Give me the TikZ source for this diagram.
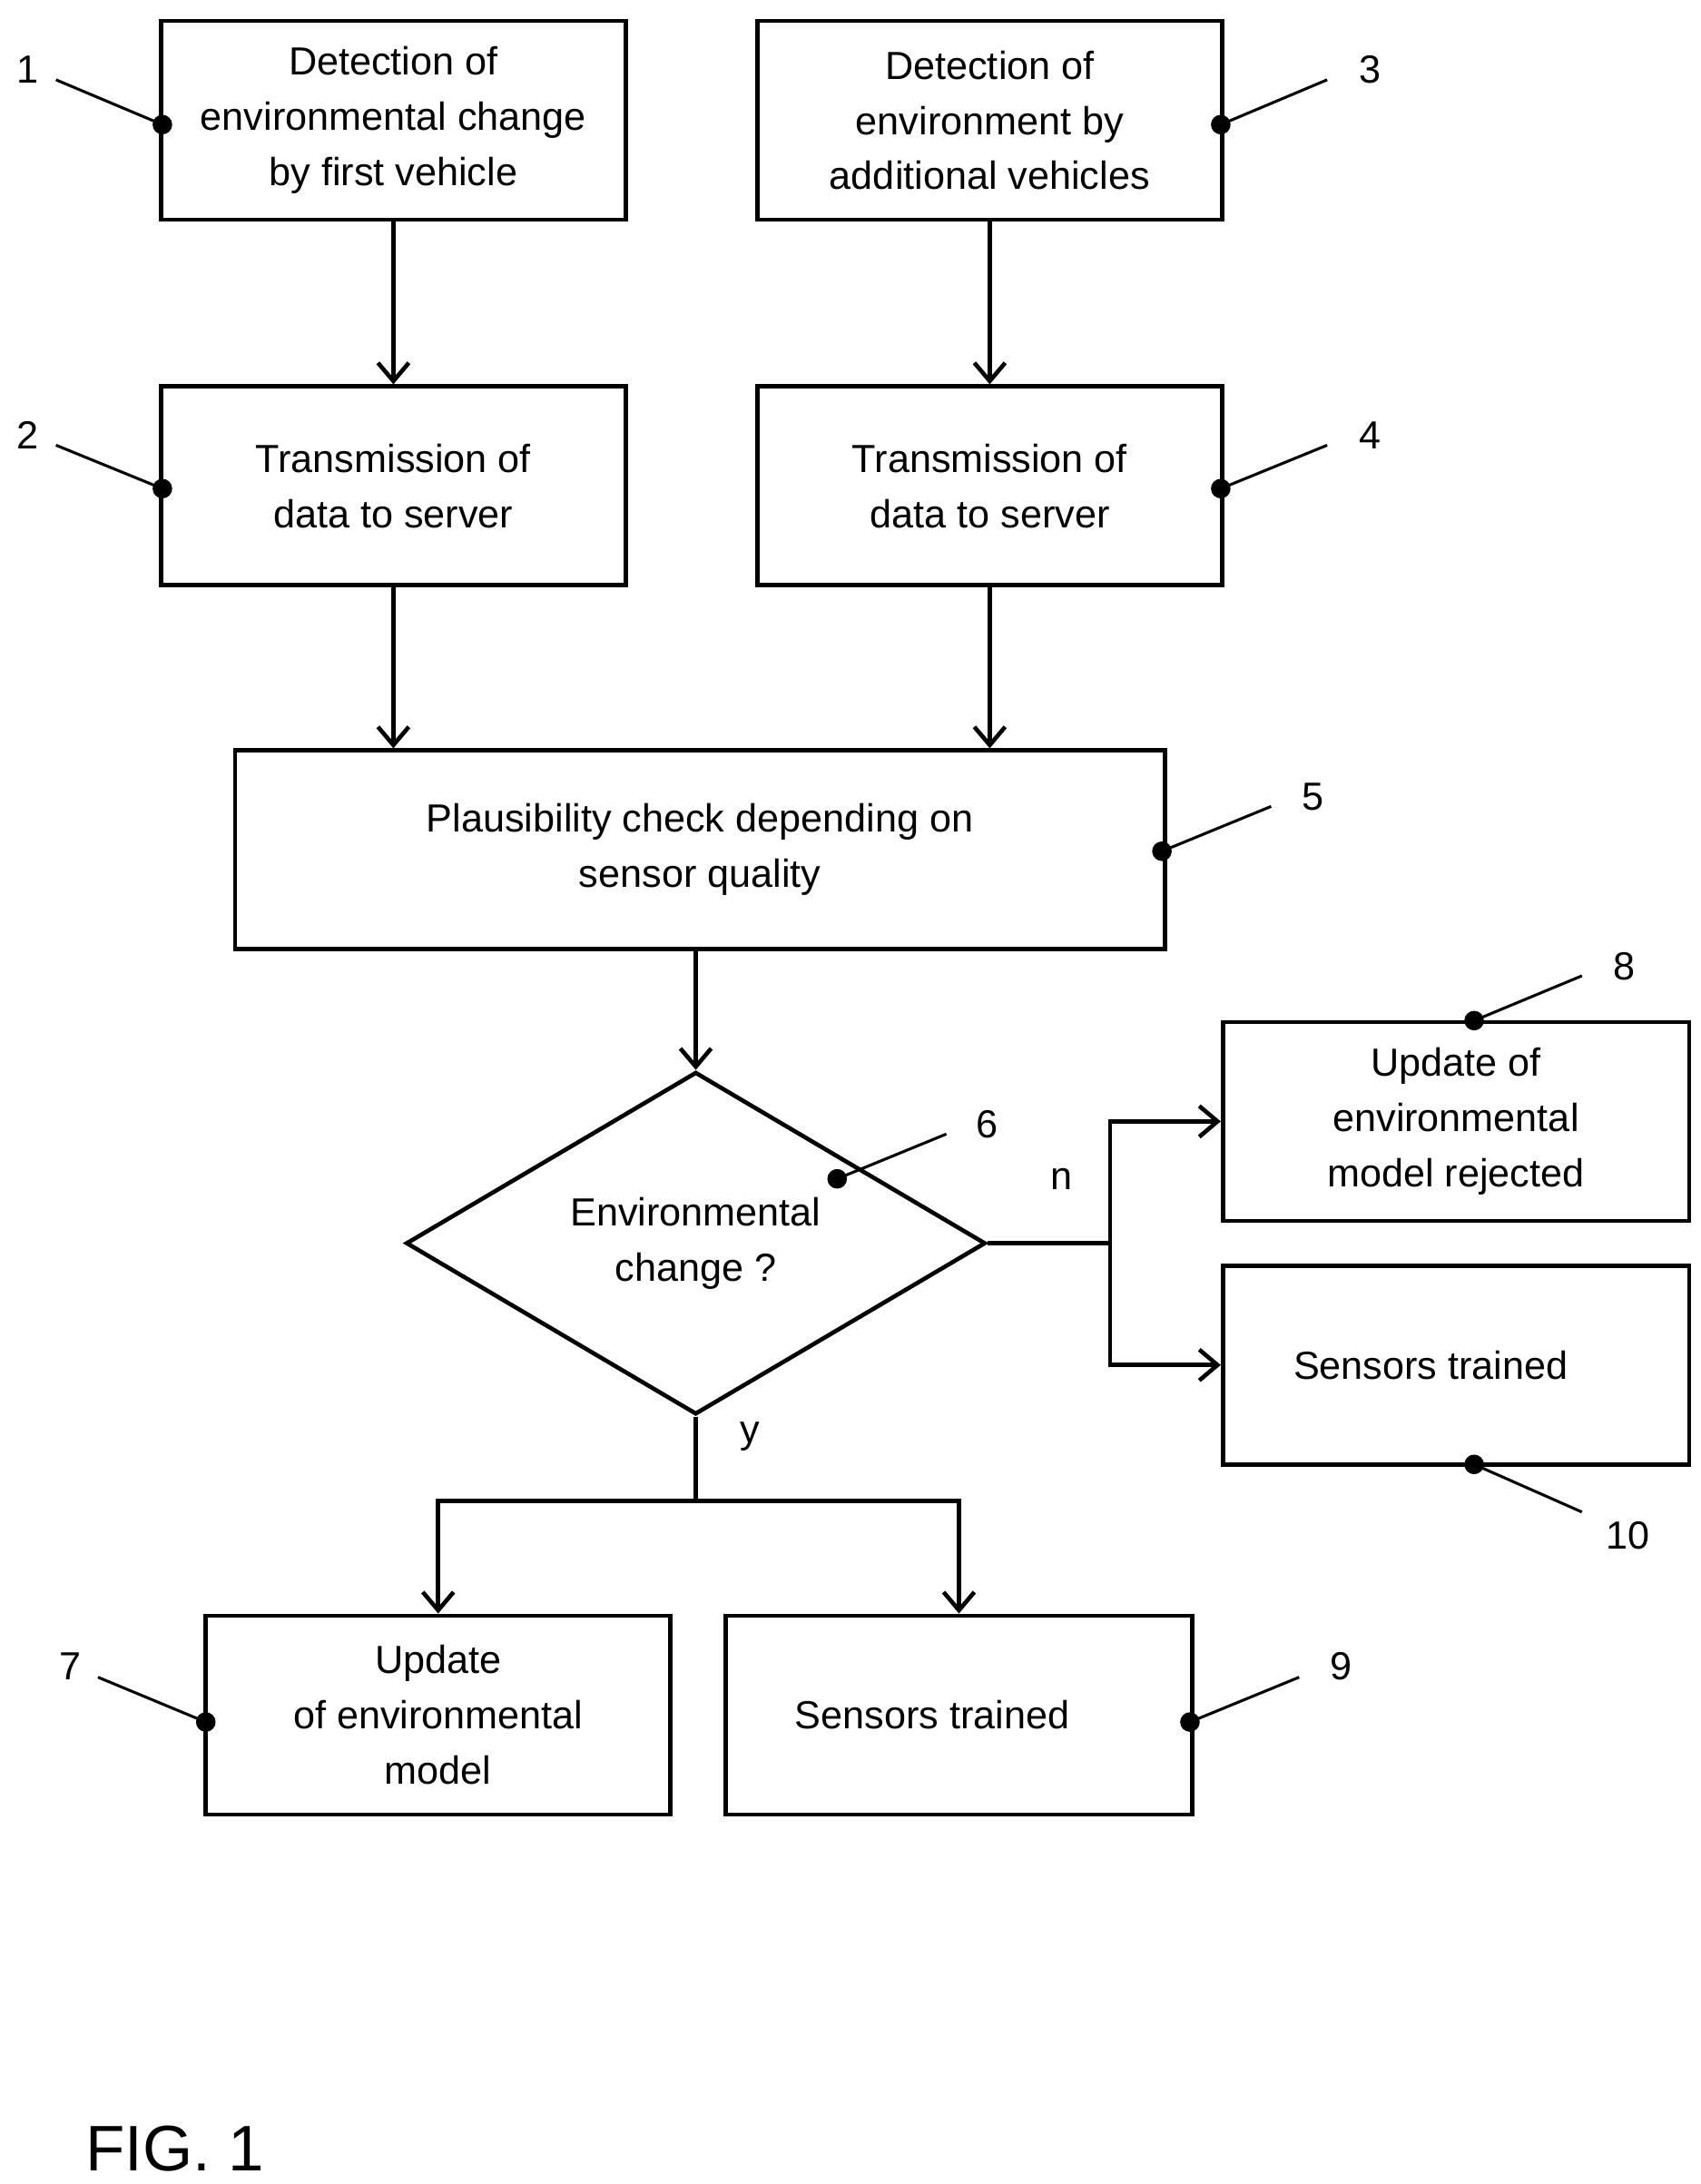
\documentclass[tikz,border=0pt]{standalone}
\usepackage{fontspec}
\setmainfont{Liberation Sans}
\usetikzlibrary{shapes.geometric,arrows.meta}
\begin{document}
\begin{tikzpicture}[x=1pt,y=-1pt,
  box/.style={draw,line width=3pt,minimum width=332pt,minimum height=142pt,align=center,inner sep=0pt,font=\fontsize{28}{39.5}\selectfont},
  arr/.style={line width=3pt,-{Straight Barb[length=13pt,width=22pt,line width=3pt]}},
  ln/.style={line width=2pt},
  dot/.style={circle,fill,inner sep=0pt,minimum size=14pt},
  lbl/.style={font=\fontsize{28}{34}\selectfont},
  every node/.style={}]
\useasboundingbox (0,0) rectangle (1215,1560);
\node[box] (b1) at (281,86) {Detection of\\environmental change\\by first vehicle};
\node[box] (b3) at (707,86) {Detection of\\environment by\\additional vehicles};
\node[box] (b2) at (281,347) {Transmission of\\data to server};
\node[box] (b4) at (707,347) {Transmission of\\data to server};
\node[box,minimum width=664pt] (b5) at (500,607) {Plausibility check depending on\\sensor quality};
\node[draw,line width=3pt,diamond,minimum width=414pt,minimum height=182pt,inner sep=0pt,align=center,font=\fontsize{28}{39.5}\selectfont] (d) at (497,888) {Environmental\\change ?};
\node[box,minimum width=333pt] (b8) at (1040,801) {Update of\\environmental\\model rejected};
\node[box,minimum width=333pt] (b10) at (1040,975) {\hspace*{-36pt}Sensors trained};
\node[box] (b7) at (313,1225) {Update\\of environmental\\model};
\node[box,minimum width=333pt] (b9) at (685,1225) {\hspace*{-38pt}Sensors trained};
\draw[arr] (b1) -- (b2);
\draw[arr] (b3) -- (b4);
\draw[arr] (b2.south) -- (b2.south |- b5.north);
\draw[arr] (b4.south) -- (b4.south |- b5.north);
\draw[arr] (b5.south -| d.north) -- (d.north);
\coordinate (j1) at (793,888);
\draw[line width=3pt] (d.east) -- (j1);
\draw[arr] (j1) |- (b8.west);
\draw[arr] (j1) |- (b10.west);
\coordinate (j2) at (497,1072);
\draw[line width=3pt] (d.south) -- (j2);
\draw[arr] (j2) -| (b7.north);
\draw[arr] (j2) -| (b9.north);
\node[lbl] (ln) at (758,842) {n};
\node[lbl] (ly) at (536,1026) {y};
% leaders
\foreach \n/\dx/\dy/\ex/\ey/\lx/\ly in {
 1/116/89/40/57/20/50, 2/116/349/40/318/20/311, 3/872/89/948/57/979/50,
 4/872/349/948/318/979/311, 5/830/608/908/576/938/569, 6/598/842/676/810/705/803,
 8/1053/729/1130/697/1160/690, 10/1053/1046/1130/1080/1163/1097,
 7/147/1230/70/1198/50/1190, 9/850/1230/928/1198/958/1190}{
 \node[dot] (p\n) at (\dx,\dy) {};
 \coordinate (e\n) at (\ex,\ey);
 \node[lbl] (l\n) at (\lx,\ly) {\n};
 \draw[ln] (p\n.center) -- (e\n);
}
\node[font=\fontsize{46}{50}\selectfont] (fig) at (125,1535) {FIG. 1};
\end{tikzpicture}
\end{document}
